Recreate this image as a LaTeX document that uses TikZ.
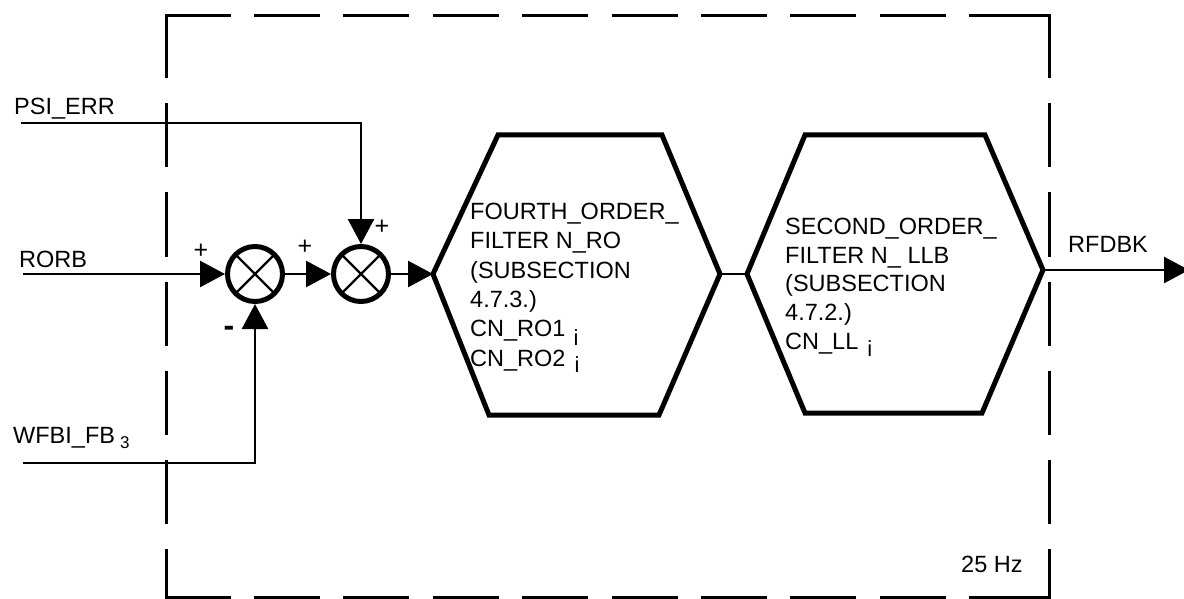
\documentclass[tikz,border=0pt]{standalone}
\usepackage{fontspec}
\setmainfont{Liberation Sans}
\usetikzlibrary{arrows.meta}
\tikzset{
  conn/.style={line width=2.5pt},
  arr/.style={conn, -{Triangle[length=25pt,width=26pt]}},
  sumnode/.style={circle, draw, line width=5pt, minimum size=55pt, inner sep=0pt},
  crossline/.style={line width=2.4pt},
  hexline/.style={line width=5pt, line join=miter},
  lbl/.style={inner sep=0pt, anchor=base west, font=\fontsize{23.5}{29.4}\selectfont},
  hextext/.style={inner sep=0pt, anchor=north west, align=left},
  sign/.style={inner sep=0pt, font=\fontsize{25}{25}\selectfont},
  hframe/.style={line width=3pt, line cap=rect, dash pattern=on 63pt off 26.4pt},
  vframe/.style={line width=3pt, line cap=rect, dash pattern=on 61pt off 28pt},
  solidframe/.style={line width=3pt, line cap=rect},
}
\begin{document}
\begin{tikzpicture}[x=1pt,y=-1pt]
\useasboundingbox (0,0) rectangle (1184,599);
% frame
\draw[hframe] (166,16) -- (1049,16);
\draw[hframe] (166,597) -- (1049,597);
\draw[solidframe] (1032,16) -- (1049,16);
\draw[solidframe] (1032,597) -- (1049,597);
\draw[vframe] (166,16) -- (166,597);
\draw[vframe] (1049,16) -- (1049,597);
\node[lbl] (lhz) at (961,572) {25 Hz};

% coordinates
\coordinate (psi) at (21,123);
\coordinate (rorb) at (23,274);
\coordinate (wfbi) at (23,463);
\coordinate (out) at (1189,270);

% hexagon 1
\coordinate (h1w) at (433,274);
\coordinate (h1nw) at (498,135);
\coordinate (h1ne) at (662,135);
\coordinate (h1e) at (720,274);
\coordinate (h1se) at (659,415);
\coordinate (h1sw) at (489,415);
\draw[hexline] (h1w) -- (h1nw) -- (h1ne) -- (h1e) -- (h1se) -- (h1sw) -- cycle;
% hexagon 2
\coordinate (h2w) at (747,274);
\coordinate (h2nw) at (805,135);
\coordinate (h2ne) at (985,135);
\coordinate (h2e) at (1043,270);
\coordinate (h2se) at (982,413);
\coordinate (h2sw) at (805,413);
\draw[hexline] (h2w) -- (h2nw) -- (h2ne) -- (h2e) -- (h2se) -- (h2sw) -- cycle;

% summing junctions
\node[sumnode] (c1) at (255,274) {};
\node[sumnode] (c2) at (361,274) {};
\draw[crossline] (c1.center) +(-19,-19) -- +(19,19);
\draw[crossline] (c1.center) +(-19,19) -- +(19,-19);
\draw[crossline] (c2.center) +(-19,-19) -- +(19,19);
\draw[crossline] (c2.center) +(-19,19) -- +(19,-19);

% connectors
\draw[arr] (rorb) -- (c1);
\draw[arr] (wfbi) -| (c1);
\draw[arr] (c1) -- (c2);
\draw[arr] (psi) -| (c2);
\draw[arr] (c2) -- (h1w);
\draw[conn] (h1e) -- (h2w);
\draw[arr] (h2e) -- (out);

% labels
\node[lbl] (lpsi) at (14,115) {PSI\_ERR};
\node[lbl] (lrorb) at (19,267) {RORB};
\node[lbl] (lwfbi) at (13,443) {WFBI\_FB\hspace{5pt}\raisebox{-5pt}{\fontsize{17}{17}\selectfont 3}};
\node[lbl] (lrfdbk) at (1068,252) {RFDBK};

\node[sign] (p1) at (201,251) {+};
\node[sign] (p2) at (305,247) {+};
\node[sign] (p3) at (382,227) {+};
\node[sign, font=\fontsize{32}{32}\selectfont\bfseries] (m1) at (229,331) {-};

% hexagon texts
\node[hextext, font=\fontsize{23.5}{29.4}\selectfont] (t1) at (470,202.6)
  {FOURTH\_ORDER\_\\FILTER N\_RO\\(SUBSECTION\\4.7.3.)\\CN\_RO1\hspace{8pt}\raisebox{-9pt}{\fontsize{22}{22}\selectfont i}\\CN\_RO2\hspace{9pt}\raisebox{-6pt}{\fontsize{22}{22}\selectfont i}};
\node[hextext, font=\fontsize{23.5}{28.8}\selectfont] (t2) at (785,217.6)
  {SECOND\_ORDER\_\\FILTER N\_ LLB\\(SUBSECTION\\4.7.2.)\\CN\_LL\hspace{9pt}\raisebox{-7pt}{\fontsize{22}{22}\selectfont i}};
\end{tikzpicture}
\end{document}
